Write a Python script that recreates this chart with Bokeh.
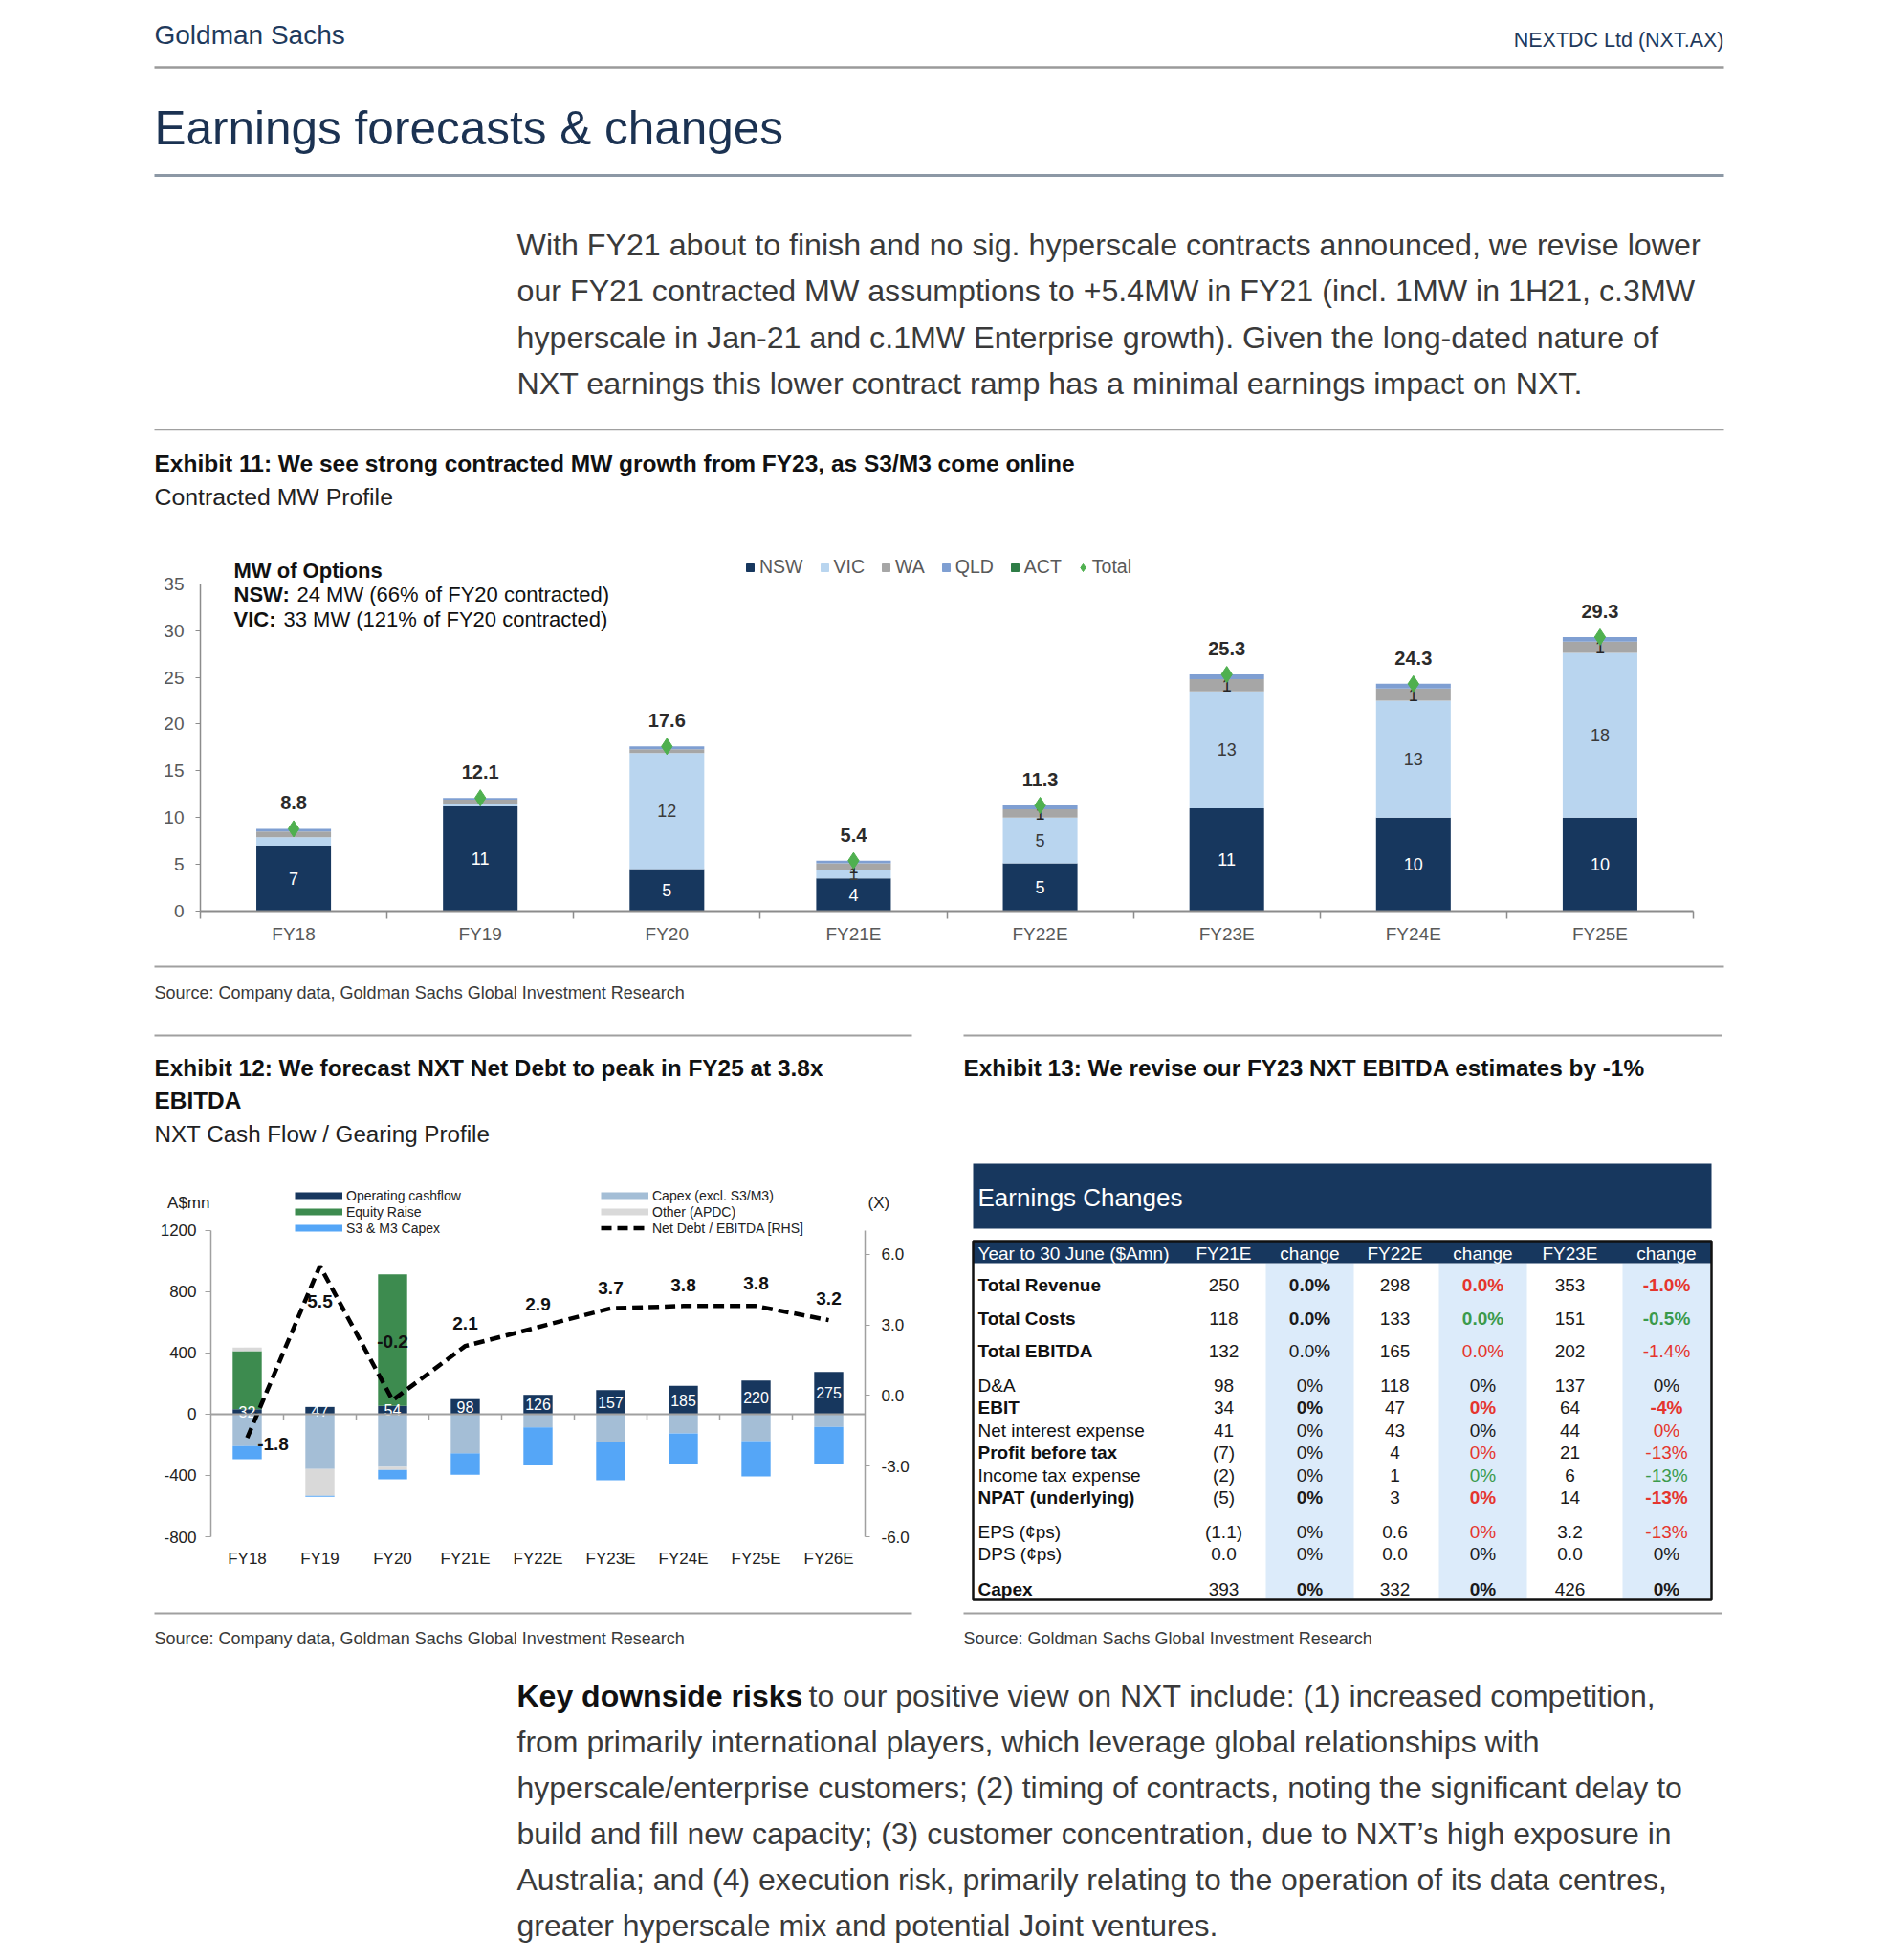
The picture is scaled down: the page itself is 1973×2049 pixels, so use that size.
import numpy as np
from bokeh.plotting import figure
from bokeh.layouts import column, row
from bokeh.models import (Range1d, FixedTicker, LinearAxis, Span, Legend, LegendItem,
                          Label, ColumnDataSource)
from bokeh.core.properties import value, field
from bokeh.embed import file_html
from bokeh.resources import INLINE

# ---------------- Exhibit 11 data (Contracted MW) ----------------
mw_years = ["FY18", "FY19", "FY20", "FY21E", "FY22E", "FY23E", "FY24E", "FY25E"]
mw_nsw = [7.0, 11.2, 4.5, 3.5, 5.1, 11.0, 10.0, 10.0]
mw_vic = [0.9, 0.3, 12.4, 0.9, 4.9, 12.5, 12.5, 17.6]
mw_wa = [0.6, 0.4, 0.4, 0.7, 0.9, 1.3, 1.3, 1.2]
mw_qld = [0.3, 0.2, 0.3, 0.3, 0.4, 0.5, 0.5, 0.5]
mw_act = [0, 0, 0, 0, 0, 0, 0, 0]
mw_total = [8.8, 12.1, 17.6, 5.4, 11.3, 25.3, 24.3, 29.3]
mw_nsw_labels = ["7", "11", "5", "4", "5", "11", "10", "10"]
mw_vic_labels = ["", "", "12", "1", "5", "13", "13", "18"]
mw_wa_labels = ["", "", "", "1", "1", "1", "1", "1"]
mw_ticks = [0, 5, 10, 15, 20, 25, 30, 35]

# ---------------- Exhibit 12 data (Cash flow / gearing) ----------------
cf_years = ["FY18", "FY19", "FY20", "FY21E", "FY22E", "FY23E", "FY24E", "FY25E", "FY26E"]
cf_op = [32, 47, 54, 98, 126, 157, 185, 220, 275]
cf_equity = [380, 0, 858, 0, 0, 0, 0, 0, 0]
cf_other = [23, -175, -21, 0, 0, 0, 0, 0, 0]
cf_capex = [-208, -358, -344, -256, -87, -181, -125, -175, -83]
cf_s3m3 = [-86, -6, -60, -140, -248, -250, -200, -231, -242]
nd_ebitda = [-1.8, 5.5, -0.2, 2.1, 2.9, 3.7, 3.8, 3.8, 3.2]
cf_left_ticks = [-800, -400, 0, 400, 800, 1200]
cf_left_labels = ["-800", "-400", "0", "400", "800", "1200"]
cf_right_ticks = [-6, -3, 0, 3, 6]
cf_right_labels = ["-6.0", "-3.0", "0.0", "3.0", "6.0"]
cf_left_unit = "A$mn"
cf_right_unit = "(X)"

# ---------------- Exhibit 13 data (Earnings changes table) ----------------
tbl_header = ["Year to 30 June ($Amn)", "FY21E", "change", "FY22E", "change", "FY23E", "change"]
tbl_rows = ["Total Revenue", "Total Costs", "Total EBITDA", "D&A", "EBIT", "Net interest expense",
            "Profit before tax", "Income tax expense", "NPAT (underlying)", "EPS (¢ps)", "DPS (¢ps)", "Capex"]
tbl_fy21 = ["250", "118", "132", "98", "34", "41", "(7)", "(2)", "(5)", "(1.1)", "0.0", "393"]
tbl_ch21 = ["0.0%", "0.0%", "0.0%", "0%", "0%", "0%", "0%", "0%", "0%", "0%", "0%", "0%"]
tbl_fy22 = ["298", "133", "165", "118", "47", "43", "4", "1", "3", "0.6", "0.0", "332"]
tbl_ch22 = ["0.0%", "0.0%", "0.0%", "0%", "0%", "0%", "0%", "0%", "0%", "0%", "0%", "0%"]
tbl_fy23 = ["353", "151", "202", "137", "64", "44", "21", "6", "14", "3.2", "0.0", "426"]
tbl_ch23 = ["-1.0%", "-0.5%", "-1.4%", "0%", "-4%", "0%", "-13%", "-13%", "-13%", "-13%", "0%", "0%"]
tbl_label_bold = [1, 1, 1, 0, 1, 0, 1, 0, 1, 0, 0, 1]
tbl_change_bold = [1, 1, 0, 0, 1, 0, 0, 0, 1, 0, 0, 1]
tbl_ch21_sign = ["k", "k", "k", "k", "k", "k", "k", "k", "k", "k", "k", "k"]
tbl_ch22_sign = ["r", "g", "r", "k", "r", "k", "r", "g", "r", "r", "k", "k"]
tbl_ch23_sign = ["r", "g", "r", "k", "r", "r", "r", "g", "r", "r", "k", "k"]

# ---------------- texts ----------------
intro_lines = [
    "With FY21 about to finish and no sig. hyperscale contracts announced, we revise lower",
    "our FY21 contracted MW assumptions to +5.4MW in FY21 (incl. 1MW in 1H21, c.3MW",
    "hyperscale in Jan-21 and c.1MW Enterprise growth).  Given the long-dated nature of",
    "NXT earnings this lower contract ramp has a minimal earnings impact on NXT.",
]
risk_bold = "Key downside risks"
risk_lines = [
    "to our positive view on NXT include: (1) increased competition,",
    "from primarily international players, which leverage global relationships with",
    "hyperscale/enterprise customers; (2) timing of contracts, noting the significant delay to",
    "build and fill new capacity; (3) customer concentration, due to NXT\u2019s high exposure in",
    "Australia; and (4) execution risk, primarily relating to the operation of its data centres,",
    "greater hyperscale mix and potential Joint ventures.",
]

# ---------------- styles ----------------
SANS = "Liberation Sans"
NAVY = "#17375e"
C_VIC = "#b9d5ef"
C_WA = "#a6a6a6"
C_QLD = "#7f9fd2"
C_ACT = "#2e7d46"
C_TOT = "#4fb04f"
C_EQ = "#3d8b4f"
C_S3 = "#55a6f7"
C_CAPEX = "#a4bed6"
C_OTHER = "#d9d9d9"
SIGN_COL = {"r": "#e5352d", "g": "#3a9a4c", "k": "#1a1a1a"}
PAGE_X0, PAGE_X1 = 0, 1966


def blank(x0, x1, y0, y1):
    p = figure(width=int(x1 - x0), height=int(y1 - y0), x_range=Range1d(x0, x1),
               y_range=Range1d(y1, y0), x_axis_location=None, y_axis_location=None,
               toolbar_location=None, output_backend="svg", min_border=0)
    p.outline_line_color = None
    p.grid.visible = False
    p.frame_align = False
    return p


def put(p, x, y, s, size, font=SANS, style="normal", color="#222222", align="left"):
    p.text(x=[x], y=[y], text=[s], text_font=value(font), text_font_size=value(f"{size}px"),
           text_font_style=value(style), text_color=color, text_align=align,
           text_baseline="middle")


def rule(p, x0, x1, y, color="#9c9c9c", w=2):
    p.segment(x0=[x0], y0=[y], x1=[x1], y1=[y], line_color=color, line_width=w)


# ================= Row A: header =================
pA = blank(PAGE_X0, PAGE_X1, 0, 560)
put(pA, 161, 36, "Goldman Sachs", 28, color="#1f3a5c")
put(pA, 1802, 41, "NEXTDC Ltd (NXT.AX)", 21.5, color="#1f3a5c", align="right")
rule(pA, 161, 1802, 70, "#9a9a9a", 2.5)
put(pA, 161, 133, "Earnings forecasts & changes", 49.5, color="#1b3252")
rule(pA, 161, 1802, 183, "#8c98a5", 3)
for i, ln in enumerate(intro_lines):
    put(pA, 540, 255 + i * 48.5, ln, 32.2, color="#3a3a3a")
rule(pA, 161, 1802, 449, "#a0a0a0", 1.5)
put(pA, 161, 484, "Exhibit 11: We see strong contracted MW growth from FY23, as S3/M3 come online",
    24.5, style="bold", color="#111111")
put(pA, 161, 519, "Contracted MW Profile", 24.8, color="#222222")

# ================= Row B: Exhibit 11 chart =================
F1_L, F1_R, F1_T, F1_B = 209, 1770, 580, 952
B_TOP, B_BOT = 560, 1000
mw_px = 342.3 / 35.0
n1 = len(mw_years)
x1 = np.arange(n1) + 0.5
p1 = figure(width=PAGE_X1 - PAGE_X0, height=B_BOT - B_TOP, x_range=Range1d(0, n1),
            y_range=Range1d(0, (F1_B - F1_T) / mw_px), output_backend="svg",
            toolbar_location=None, min_border_left=F1_L - PAGE_X0,
            min_border_right=PAGE_X1 - F1_R, min_border_top=F1_T - B_TOP,
            min_border_bottom=B_BOT - F1_B)
p1.outline_line_color = None
p1.grid.visible = False
p1.frame_align = False

src1 = ColumnDataSource(dict(x=x1, nsw=mw_nsw, vic=mw_vic, wa=mw_wa, qld=mw_qld, act=mw_act))
p1.vbar_stack(["nsw", "vic", "wa", "qld", "act"], x="x", width=0.4,
              fill_color=[NAVY, C_VIC, C_WA, C_QLD, C_ACT], line_color=None, source=src1)
nsw = np.array(mw_nsw)
vic = np.array(mw_vic)
wa = np.array(mw_wa)
p1.text(x=x1, y=nsw / 2, text=mw_nsw_labels, text_font=value(SANS), text_font_size="18px",
        text_color="white", text_align="center", text_baseline="middle")
p1.text(x=x1, y=nsw + vic / 2, text=mw_vic_labels, text_font=value(SANS), text_font_size="18px",
        text_color="#3a3a3a", text_align="center", text_baseline="middle")
p1.text(x=x1, y=nsw + vic + wa / 2, text=mw_wa_labels, text_font=value(SANS),
        text_font_size="18px", text_color="#262626", text_align="center", text_baseline="middle")
p1.scatter(x=x1, y=mw_total, marker="diamond", size=17, color=C_TOT)
p1.text(x=x1, y=mw_total, text=[f"{t:.1f}" for t in mw_total], y_offset=-27,
        text_font=value(SANS), text_font_size="20px", text_font_style="bold",
        text_color="#2b2b2b", text_align="center", text_baseline="middle")

p1.xaxis.ticker = FixedTicker(ticks=list(x1), minor_ticks=list(np.arange(n1 + 1)))
p1.xaxis.major_label_overrides = {float(v): lab for v, lab in zip(x1, mw_years)}
p1.xaxis.axis_line_color = "#8c8c8c"
p1.xaxis.axis_line_width = 2
p1.xaxis.major_tick_line_color = None
p1.xaxis.major_tick_out = 0
p1.xaxis.minor_tick_line_color = "#8c8c8c"
p1.xaxis.minor_tick_line_width = 1.5
p1.xaxis.minor_tick_out = 8
p1.xaxis.minor_tick_in = 0
p1.xaxis.major_label_standoff = 5
p1.yaxis.ticker = FixedTicker(ticks=mw_ticks)
p1.yaxis.bounds = (0, 35)
p1.yaxis.axis_line_color = "#8c8c8c"
p1.yaxis.axis_line_width = 1.5
p1.yaxis.major_tick_line_color = "#8c8c8c"
p1.yaxis.major_tick_out = 5
p1.yaxis.major_tick_in = 0
p1.yaxis.minor_tick_line_color = None
p1.yaxis.major_label_standoff = 12
for ax in (p1.xaxis, p1.yaxis):
    ax.major_label_text_font = SANS
    ax.major_label_text_font_size = "19px"
    ax.major_label_text_color = "#595959"

leg_colors = [NAVY, C_VIC, C_WA, C_QLD, C_ACT]
leg_names = ["NSW", "VIC", "WA", "QLD", "ACT"]
items1 = []
for nm, c in zip(leg_names, leg_colors):
    r = p1.scatter(x=[np.nan], y=[np.nan], marker="square", size=8, color=c)
    items1.append(LegendItem(label=nm, renderers=[r]))
rt = p1.scatter(x=[np.nan], y=[np.nan], marker="diamond", size=10, color=C_TOT)
items1.append(LegendItem(label="Total", renderers=[rt]))
leg1 = Legend(items=items1, orientation="horizontal", location=(565, 348),
              glyph_width=20, glyph_height=20, label_height=20, label_standoff=0,
              spacing=12, padding=0, margin=0, border_line_color=None,
              background_fill_alpha=0, label_text_font=SANS, label_text_font_size="19.5px",
              label_text_color="#595959")
p1.add_layout(leg1)


def lab1(x, y, s, style="normal"):
    p1.add_layout(Label(x=x - F1_L, y=F1_B - y, x_units="screen", y_units="screen", text=s,
                        text_font=SANS, text_font_size="22px", text_font_style=style,
                        text_color="#111111", text_baseline="middle"))


lab1(244, 596, "MW of Options", "bold")
lab1(244, 621, "NSW:", "bold")
lab1(310, 621, "24 MW (66% of FY20 contracted)")
lab1(244, 647, "VIC:", "bold")
lab1(296, 647, "33 MW (121% of FY20 contracted)")

# ================= Row C: source + exhibit 12/13 titles =================
pC = blank(PAGE_X0, PAGE_X1, 1000, 1205)
rule(pC, 161, 1802, 1010, "#a0a0a0", 2)
put(pC, 161, 1037, "Source: Company data, Goldman Sachs Global Investment Research", 18, color="#3a3a3a")
rule(pC, 161, 953, 1082, "#a0a0a0", 2)
rule(pC, 1007, 1800, 1082, "#a0a0a0", 2)
put(pC, 161, 1116, "Exhibit 12: We forecast NXT Net Debt to peak in FY25 at 3.8x", 24.4,
    style="bold", color="#111111")
put(pC, 161, 1150, "EBITDA", 24.4, style="bold", color="#111111")
put(pC, 161, 1185, "NXT Cash Flow / Gearing Profile", 24.2, color="#222222")
put(pC, 1007, 1116, "Exhibit 13: We revise our FY23 NXT EBITDA estimates by -1%", 24.4,
    style="bold", color="#111111")

# ================= Row D left: Exhibit 12 chart =================
F2_L, F2_R, F2_T, F2_B = 220, 904, 1215, 1606
D_TOP, D_BOT, D_SPLIT = 1205, 1678, 985
cf_px = 320.3 / 2000.0
nd_px = 295.3 / 12.0
n2 = len(cf_years)
x2 = np.arange(n2) + 0.5
p2 = figure(width=D_SPLIT - PAGE_X0, height=D_BOT - D_TOP, x_range=Range1d(0, n2),
            y_range=Range1d(-800, -800 + (F2_B - F2_T) / cf_px), output_backend="svg",
            toolbar_location=None, min_border_left=F2_L - PAGE_X0,
            min_border_right=D_SPLIT - F2_R, min_border_top=F2_T - D_TOP,
            min_border_bottom=D_BOT - F2_B)
p2.outline_line_color = None
p2.grid.visible = False
p2.frame_align = False
p2.extra_y_ranges = {"nd": Range1d(-6, -6 + (F2_B - F2_T) / nd_px)}

op = np.array(cf_op, dtype=float)
eq = np.array(cf_equity, dtype=float)
oth = np.array(cf_other, dtype=float)
cx = np.array(cf_capex, dtype=float)
s3 = np.array(cf_s3m3, dtype=float)
oth_pos = np.clip(oth, 0, None)
oth_neg = np.clip(oth, None, 0)
bw = 0.4
p2.vbar(x=x2, bottom=0, top=op, width=bw, fill_color=NAVY, line_color=None)
p2.vbar(x=x2, bottom=op, top=op + eq, width=bw, fill_color=C_EQ, line_color=None)
p2.vbar(x=x2, bottom=op + eq, top=op + eq + oth_pos, width=bw, fill_color=C_OTHER, line_color=None)
p2.vbar(x=x2, bottom=0, top=cx, width=bw, fill_color=C_CAPEX, line_color=None)
p2.vbar(x=x2, bottom=cx, top=cx + oth_neg, width=bw, fill_color=C_OTHER, line_color=None)
p2.vbar(x=x2, bottom=cx + oth_neg, top=cx + oth_neg + s3, width=bw, fill_color=C_S3, line_color=None)
p2.add_layout(Span(location=0, dimension="width", line_color="#a0a0a0", line_width=2))
bnd = np.arange(1, n2)
p2.segment(x0=bnd, y0=np.zeros(len(bnd)), x1=bnd, y1=np.full(len(bnd), -6 / cf_px),
           line_color="#a0a0a0", line_width=1.5)
p2.text(x=x2, y=op / 2, text=[str(v) for v in cf_op], text_font=value(SANS),
        text_font_size="16px", text_color="white", text_align="center", text_baseline="middle")

p2.line(x=x2, y=nd_ebitda, y_range_name="nd", line_color="black", line_width=4.5,
        line_dash="11 6")
nd_dx = [27, 0, 0, 0, 0, 0, 0, 0, 0]
nd_dy = [6, 37, -61, -24, -24, -21, -22, -24, -23]
src_nd = ColumnDataSource(dict(x=x2, y=nd_ebitda, t=[f"{v:.1f}" for v in nd_ebitda],
                               dx=nd_dx, dy=nd_dy))
p2.text(x="x", y="y", text="t", x_offset="dx", y_offset="dy", source=src_nd,
        y_range_name="nd", text_font=value(SANS), text_font_size="19px",
        text_font_style="bold", text_color="#111111", text_align="center",
        text_baseline="middle")

p2.xaxis.ticker = FixedTicker(ticks=list(x2))
p2.xaxis.major_label_overrides = {float(v): lab for v, lab in zip(x2, cf_years)}
p2.xaxis.axis_line_color = None
p2.xaxis.major_tick_line_color = None
p2.xaxis.major_tick_out = 0
p2.xaxis.minor_tick_line_color = None
p2.xaxis.major_label_standoff = 13
lax = p2.yaxis[0]
lax.ticker = FixedTicker(ticks=cf_left_ticks)
lax.major_label_overrides = {t: s for t, s in zip(cf_left_ticks, cf_left_labels)}
lax.bounds = (-800, 1200)
lax.major_tick_out = 6
lax.major_tick_in = 0
lax.major_label_standoff = 9
rax = LinearAxis(y_range_name="nd", ticker=FixedTicker(ticks=cf_right_ticks), bounds=(-6, 7))
rax.major_label_overrides = {t: s for t, s in zip(cf_right_ticks, cf_right_labels)}
rax.major_tick_out = 5
rax.major_tick_in = 0
rax.major_label_standoff = 12
p2.add_layout(rax, "right")
for ax in (p2.xaxis[0], lax, rax):
    ax.major_label_text_font = SANS
    ax.major_label_text_font_size = "17px"
    ax.major_label_text_color = "#222222"
for ax in (lax, rax):
    ax.axis_line_color = "#a0a0a0"
    ax.axis_line_width = 1.5
    ax.major_tick_line_color = "#a0a0a0"
    ax.minor_tick_line_color = None

# unit captions carried by tick-less axes at the top of each side
unit_left_at = 1381
unit_right_at = 8.2
uax_l = LinearAxis(ticker=FixedTicker(ticks=[unit_left_at]),
                   major_label_overrides={unit_left_at: cf_left_unit}, major_label_standoff=-55)
uax_r = LinearAxis(y_range_name="nd", ticker=FixedTicker(ticks=[unit_right_at]),
                   major_label_overrides={unit_right_at: cf_right_unit}, major_label_standoff=-46)
for ax in (uax_l, uax_r):
    ax.axis_line_color = None
    ax.major_tick_line_color = None
    ax.minor_tick_line_color = None
    ax.major_tick_out = 0
    ax.major_label_text_font = SANS
    ax.major_label_text_font_size = "17px"
    ax.major_label_text_color = "#222222"
p2.add_layout(uax_l, "left")
p2.add_layout(uax_r, "right")


def proxy(color, dash="solid", w=7):
    return p2.line(x=[np.nan], y=[np.nan], line_color=color, line_width=w, line_dash=dash)


legA = [LegendItem(label="Operating cashflow", renderers=[proxy(NAVY)]),
        LegendItem(label="Equity Raise", renderers=[proxy(C_EQ)]),
        LegendItem(label="S3 & M3 Capex", renderers=[proxy(C_S3)])]
legB = [LegendItem(label="Capex (excl. S3/M3)", renderers=[proxy(C_CAPEX)]),
        LegendItem(label="Other (APDC)", renderers=[proxy(C_OTHER)]),
        LegendItem(label="Net Debt / EBITDA [RHS]", renderers=[proxy("black", "11 6", 4.5)])]
for items, lx in ((legA, 308), (legB, 628)):
    p2.add_layout(Legend(items=items, location=(lx - F2_L, 314), orientation="vertical",
                         glyph_width=50, glyph_height=17, label_height=17, label_standoff=4,
                         spacing=0, padding=0, margin=0, border_line_color=None,
                         background_fill_alpha=0, label_text_font=SANS,
                         label_text_font_size="14px", label_text_color="#222222"))

# ================= Row D right: Exhibit 13 table =================
p3 = blank(D_SPLIT, PAGE_X1, D_TOP, D_BOT)
T_L, T_R, T_TOP, T_HDR, T_BOT = 1017, 1789, 1297, 1320, 1672
col_x = [1022, 1279, 1369, 1458, 1550, 1641, 1742]
tbl_gap = [35, 34, 36, 23, 24, 23, 24, 23, 36, 23, 37]
row_y = list(1343 + np.concatenate([[0], np.cumsum(tbl_gap)]))
p3.quad(left=[T_L], right=[T_R], top=[1216], bottom=[1284], fill_color=NAVY, line_color=None)
put(p3, 1022, 1251, "Earnings Changes", 26, color="white")
for ci in (2, 4, 6):
    p3.quad(left=[col_x[ci] - 46], right=[col_x[ci] + 46], top=[T_HDR], bottom=[T_BOT - 1],
            fill_color="#dcebfa", line_color=None)
p3.quad(left=[T_L], right=[T_R], top=[T_TOP], bottom=[T_HDR], fill_color=NAVY, line_color=None)
for ci, h in enumerate(tbl_header):
    put(p3, col_x[ci], (T_TOP + T_HDR) / 2 + 1, h, 19, color="white",
        align="left" if ci == 0 else "center")


def tcol(ci, texts, styles, colors, align="center"):
    src = ColumnDataSource(dict(x=[col_x[ci]] * len(texts), y=row_y, t=texts, s=styles, c=colors))
    p3.text(x="x", y="y", text="t", source=src, text_font=value(SANS), text_font_size="19px",
            text_font_style=field("s"), text_color=field("c"), text_align=align,
            text_baseline="middle")


nrow = len(tbl_rows)
tcol(0, tbl_rows, ["bold" if b else "normal" for b in tbl_label_bold], ["#111111"] * nrow, "left")
chs = ["bold" if b else "normal" for b in tbl_change_bold]
tcol(1, tbl_fy21, ["normal"] * nrow, ["#1a1a1a"] * nrow)
tcol(2, tbl_ch21, chs, [SIGN_COL[s] for s in tbl_ch21_sign])
tcol(3, tbl_fy22, ["normal"] * nrow, ["#1a1a1a"] * nrow)
tcol(4, tbl_ch22, chs, [SIGN_COL[s] for s in tbl_ch22_sign])
tcol(5, tbl_fy23, ["normal"] * nrow, ["#1a1a1a"] * nrow)
tcol(6, tbl_ch23, chs, [SIGN_COL[s] for s in tbl_ch23_sign])
p3.quad(left=[T_L], right=[T_R], top=[T_TOP], bottom=[T_BOT], fill_color=None,
        line_color="#111111", line_width=2.5)

# ================= Row E: sources + risks paragraph =================
pE = blank(PAGE_X0, PAGE_X1, D_BOT, 2042)
rule(pE, 161, 953, 1686, "#a0a0a0", 2)
rule(pE, 1007, 1800, 1686, "#a0a0a0", 2)
put(pE, 161, 1712, "Source: Company data, Goldman Sachs Global Investment Research", 18, color="#3a3a3a")
put(pE, 1007, 1712, "Source: Goldman Sachs Global Investment Research", 18, color="#3a3a3a")
put(pE, 540, 1772, risk_bold, 32, style="bold", color="#111111")
for i, ln in enumerate(risk_lines):
    put(pE, 845 if i == 0 else 540, 1772 + i * 48, ln, 32, color="#3a3a3a")

layout = column(pA, p1, pC, row(p2, p3), pE)
open("out.html", "w").write(file_html(layout, INLINE))
